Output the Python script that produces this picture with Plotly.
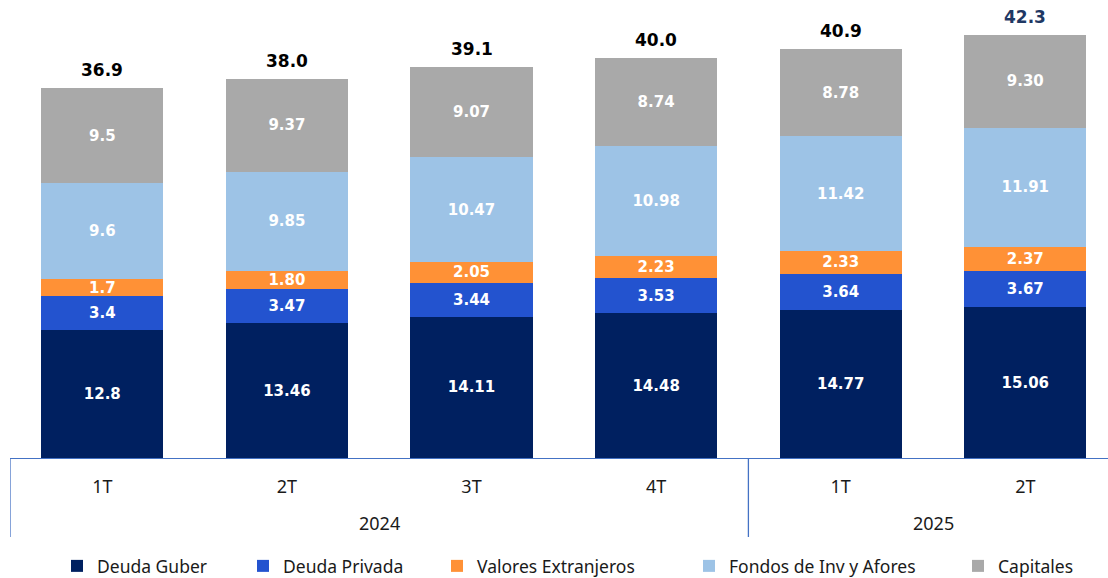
import plotly.graph_objects as go

quarters = ["1T", "2T", "3T", "4T", "1T", "2T"]
years = ["2024", "2025"]
year_span = [(0, 3), (4, 5)]

series_names = ["Deuda Guber", "Deuda Privada", "Valores Extranjeros", "Fondos de Inv y Afores", "Capitales"]
deuda_guber = [12.8, 13.46, 14.11, 14.48, 14.77, 15.06]
deuda_privada = [3.4, 3.47, 3.44, 3.53, 3.64, 3.67]
valores_ext = [1.7, 1.80, 2.05, 2.23, 2.33, 2.37]
fondos = [9.6, 9.85, 10.47, 10.98, 11.42, 11.91]
capitales = [9.5, 9.37, 9.07, 8.74, 8.78, 9.30]

label_guber = ["12.8", "13.46", "14.11", "14.48", "14.77", "15.06"]
label_privada = ["3.4", "3.47", "3.44", "3.53", "3.64", "3.67"]
label_valores = ["1.7", "1.80", "2.05", "2.23", "2.33", "2.37"]
label_fondos = ["9.6", "9.85", "10.47", "10.98", "11.42", "11.91"]
label_capitales = ["9.5", "9.37", "9.07", "8.74", "8.78", "9.30"]

totals_label = ["36.9", "38.0", "39.1", "40.0", "40.9", "42.3"]

colors = ["#002060", "#2353CF", "#FF9136", "#9DC3E6", "#A9A9A9"]
total_colors = ["#000000"] * 5 + ["#1F3864"]

W, H = 1108, 578
ML, MR, MT, MB = 10, 0, 0, 120
plot_w = W - ML - MR
plot_h = H - MT - MB
cat_px = 184.6
x_range = [-0.5, -0.5 + plot_w / cat_px]
y_range = [0, plot_h / 10.0]

x = list(range(len(quarters)))
series = [deuda_guber, deuda_privada, valores_ext, fondos, capitales]
labels = [label_guber, label_privada, label_valores, label_fondos, label_capitales]

fig = go.Figure()
legend_text_start = [97, 283, 477, 729, 998]
for i, (name, vals, labs, col) in enumerate(zip(series_names, series, labels, colors)):
    lg = "legend" if i == 0 else f"legend{i+1}"
    fig.add_trace(go.Bar(
        x=x, y=vals, name=name, marker=dict(color=col, line=dict(width=0)),
        text=labs, textposition="inside", insidetextanchor="middle", textangle=0,
        textfont=dict(family="DejaVu Sans", size=15, color="white", weight="bold"),
        legend=lg, showlegend=True, hoverinfo="skip",
    ))

totals = [sum(v) for v in zip(*series)]
for xi, t, lab, c in zip(x, totals, totals_label, total_colors):
    fig.add_annotation(x=xi, y=t, text=f"<b>{lab}</b>", showarrow=False, yanchor="bottom", yshift=6,
                       font=dict(family="DejaVu Sans", size=17, color=c))

axis_y = -79 / plot_h
for (a, b), yr in zip(year_span, years):
    fig.add_annotation(x=(a + b) / 2, y=-65 / plot_h, xref="x", yref="paper", text=yr, showarrow=False,
                       yanchor="middle", font=dict(family="Noto Sans", size=18, color="#1a1a1a"))
for xv in [-0.5, 3.5]:
    fig.add_shape(type="line", xref="x", yref="paper", x0=xv, x1=xv, y0=0, y1=axis_y,
                  line=dict(color="#4472C4", width=1.3))

layout_legends = {}
for i, ts in enumerate(legend_text_start):
    key = "legend" if i == 0 else f"legend{i+1}"
    layout_legends[key] = dict(orientation="h", xref="container", x=(ts - 40) / W, xanchor="left",
                               yref="container", y=(H - 566) / H, yanchor="middle",
                               font=dict(family="Noto Sans", size=17.5, color="#1a1a1a"),
                               bgcolor="rgba(0,0,0,0)", itemwidth=30, itemclick=False)

fig.update_layout(
    width=W, height=H, margin=dict(l=ML, r=MR, t=MT, b=MB, pad=0),
    barmode="stack", bargap=0.339,
    plot_bgcolor="white", paper_bgcolor="white",
    uniformtext=dict(minsize=15, mode="show"),
    xaxis=dict(range=x_range, tickvals=x, ticktext=quarters, showgrid=False, zeroline=False,
               showline=True, linecolor="#4472C4", linewidth=1.3, ticks="",
               ticklabelstandoff=12,
               tickfont=dict(family="Noto Sans", size=18, color="#1a1a1a")),
    yaxis=dict(range=y_range, visible=False, showgrid=False),
    **layout_legends,
)

fig.write_html("out.html", config={"displayModeBar": False},
               post_script="document.body.style.margin='0';document.body.style.overflow='hidden';")
